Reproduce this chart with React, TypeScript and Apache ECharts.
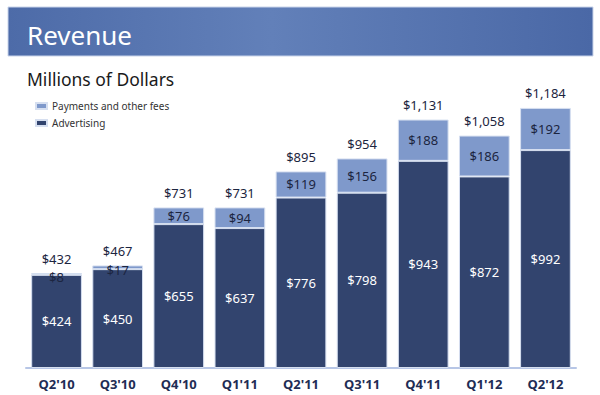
import React, { useEffect, useRef } from "react";
import * as echarts from "echarts";

const categories = ["Q2'10", "Q3'10", "Q4'10", "Q1'11", "Q2'11", "Q3'11", "Q4'11", "Q1'12", "Q2'12"];
const advertising = [424, 450, 655, 637, 776, 798, 943, 872, 992];
const payments = [8, 17, 76, 94, 119, 156, 188, 186, 192];
const totals = advertising.map((v, i) => v + payments[i]);

const FONT = "'Noto Sans', 'DejaVu Sans', sans-serif";

export default function App() {
  const ref = useRef<HTMLDivElement>(null);
  useEffect(() => {
    if (!ref.current) return;
    const chart = echarts.init(ref.current, null, { renderer: "svg" });
    const fmt = (v: number) => "$" + v.toLocaleString("en-US");
    chart.setOption({
      animation: false,
      backgroundColor: "#ffffff",
      textStyle: { fontFamily: FONT },
      graphic: [
        {
          type: "rect",
          shape: { x: 8, y: 7, width: 585, height: 49 },
          style: {
            fill: new echarts.graphic.LinearGradient(0, 0, 1, 0, [
              { offset: 0, color: "#4d6ba8" },
              { offset: 0.45, color: "#6280b9" },
              { offset: 1, color: "#4a68a6" },
            ]),
            stroke: "#c9d4ea",
            lineWidth: 1,
          },
          z: 0,
        },
        {
          type: "text",
          x: 27,
          y: 35,
          style: {
            text: "Revenue",
            fill: "#ffffff",
            font: `26px ${FONT}`,
            verticalAlign: "middle",
          },
          z: 1,
        },
        {
          type: "text",
          x: 27,
          y: 79,
          style: {
            text: "Millions of Dollars",
            fill: "#1a1a1a",
            font: `17.5px ${FONT}`,
            verticalAlign: "middle",
          },
        },
      ],
      legend: {
        data: ["Payments and other fees", "Advertising"],
        orient: "vertical",
        left: 30,
        top: 96,
        itemWidth: 11,
        itemHeight: 6,
        itemGap: 7,
        icon: "rect",
        textStyle: { fontSize: 10, color: "#333333", fontFamily: FONT },
      },
      grid: { left: 26, right: 24, top: 100, bottom: 27 },
      xAxis: {
        type: "category",
        data: categories,
        axisLine: { lineStyle: { color: "#b7c6e6", width: 2 } },
        axisTick: { show: false },
        axisLabel: {
          fontSize: 13,
          fontWeight: "bold",
          color: "#1f2d55",
          margin: 9,
          fontFamily: FONT,
        },
      },
      yAxis: { type: "value", min: 0, max: 1220, show: false, splitLine: { show: false } },
      series: [
        {
          name: "Advertising",
          type: "bar",
          stack: "rev",
          data: advertising,
          barCategoryGap: "17%",
          itemStyle: { color: "#32446e", borderColor: "#d6dff0", borderWidth: 1 },
          label: {
            show: true,
            position: "inside",
            color: "#ffffff",
            fontSize: 13,
            fontFamily: FONT,
            formatter: (p: any) => fmt(p.value),
          },
        },
        {
          name: "Payments and other fees",
          type: "bar",
          stack: "rev",
          data: payments.map((v) =>
            v < 30 ? { value: v, label: { offset: [0, 3] } } : v
          ),
          itemStyle: { color: "#7f99cb", borderColor: "#d6dff0", borderWidth: 1 },
          label: {
            show: true,
            position: "inside",
            color: "#1c2540",
            fontSize: 13,
            fontFamily: FONT,
            formatter: (p: any) => fmt(p.value),
          },
        },
        {
          name: "Total",
          type: "bar",
          stack: "rev",
          data: advertising.map(() => 0),
          itemStyle: { color: "transparent" },
          label: {
            show: true,
            position: "top",
            distance: 8,
            color: "#1c2540",
            fontSize: 13,
            fontFamily: FONT,
            formatter: (p: any) => fmt(totals[p.dataIndex]),
          },
        },
      ],
    });
    return () => chart.dispose();
  }, []);
  return (
    <div
      ref={ref}
      style={{ position: "fixed", left: 0, top: 0, width: 600, height: 395 }}
    />
  );
}
